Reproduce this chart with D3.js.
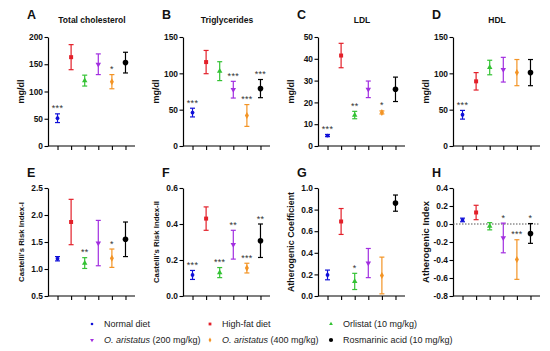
<!DOCTYPE html>
<html><head><meta charset="utf-8">
<script src="https://cdn.jsdelivr.net/npm/d3@7"></script>
<style>
body{margin:0;background:#fff;}
svg{display:block;font-family:"Liberation Sans",Arial,sans-serif;}
</style></head>
<body><svg id="c" width="550" height="351"></svg>
<script>
const groups = ["Normal diet","High-fat diet","Orlistat (10 mg/kg)","O. aristatus (200 mg/kg)","O. aristatus (400 mg/kg)","Rosmarinic acid (10 mg/kg)"];
const colors = ["#1010d8","#e3202a","#33c233","#a22ee0","#f39425","#000000"];
const shapes = ["circle","square","triangle","triangleDown","diamond","bigCircle"];

const tcMean = [51,163,120,150,118,153];
const tcErr  = [8,23,10,19,13,19];
const tcSig  = ["***","","","","*",""];

const tgMean = [46,115.5,103,77.5,42,79];
const tgErr  = [6,16,13,11.5,15,12.5];
const tgSig  = ["***","","","***","***","***"];

const ldlMean = [4.8,41.5,14.2,26,15.4,26];
const ldlErr  = [0.5,5.6,1.7,3.8,0.7,5.6];
const ldlSig  = ["***","","**","","*",""];

const hdlMean = [43,89,108,105,101,101];
const hdlErr  = [6,12,10,17,18,18];
const hdlSig  = ["***","","","","",""];

const cr1Mean = [1.19,1.87,1.11,1.48,1.2,1.55];
const cr1Err  = [0.04,0.42,0.1,0.42,0.17,0.32];
const cr1Sig  = ["","","**","","*",""];

const cr2Mean = [0.117,0.43,0.13,0.285,0.155,0.307];
const cr2Err  = [0.025,0.065,0.028,0.08,0.027,0.093];
const cr2Sig  = ["***","","***","**","***","**"];

const acMean = [0.195,0.69,0.135,0.305,0.19,0.86];
const acErr  = [0.045,0.12,0.075,0.135,0.17,0.075];
const acSig  = ["","","*","","",""];

const aiMean = [0.045,0.128,-0.025,-0.155,-0.395,-0.105];
const aiErr  = [0.02,0.08,0.04,0.165,0.22,0.11];
const aiSig  = ["","","","*","***","*"];

const panelLetters = ["A","B","C","D","E","F","G","H"];
const panelTitles = ["Total cholesterol","Triglycerides","LDL","HDL","","","",""];
const yTitles = ["mg/dl","mg/dl","mg/dl","mg/dl","Castelli's Risk Index-I","Castelli's Risk Index-II","Atherogenic Coefficient","Atherogenic Index"];
const yDomains = [[0,200],[0,150],[0,50],[0,150],[0.5,2.5],[0,0.6],[0,1.0],[-0.8,0.4]];
const yTicks = [[0,50,100,150,200],[0,50,100,150],[0,10,20,30,40,50],[0,50,100,150],[0.5,1.0,1.5,2.0,2.5],[0.0,0.2,0.4,0.6],[0.0,0.2,0.4,0.6,0.8,1.0],[-0.8,-0.6,-0.4,-0.2,0.0,0.2,0.4]];
const yDecimals = [0,0,0,0,1,1,1,1];

const panels = [
  [tcMean,tcErr,tcSig],[tgMean,tgErr,tgSig],[ldlMean,ldlErr,ldlSig],[hdlMean,hdlErr,hdlSig],
  [cr1Mean,cr1Err,cr1Sig],[cr2Mean,cr2Err,cr2Sig],[acMean,acErr,acSig],[aiMean,aiErr,aiSig]
];
const yTitleSize = [9,9,9,9,7.8,7.8,8.9,9.4];

const svg = d3.select("#c");

function drawMarker(g, shape, color, cx, cy, s) {
  if (shape === "circle") {
    g.append("circle").attr("cx",cx).attr("cy",cy).attr("r",1.9*s).attr("fill",color);
  } else if (shape === "bigCircle") {
    g.append("circle").attr("cx",cx).attr("cy",cy).attr("r",2.8*s).attr("fill",color);
  } else {
    const sym = shape==="square"?d3.symbolSquare:shape==="diamond"?d3.symbolDiamond:d3.symbolTriangle;
    const size = shape==="square"?16:shape==="diamond"?14:13;
    g.append("path").attr("d", d3.symbol().type(sym).size(size*s*s)()).attr("fill",color)
      .attr("transform", `translate(${cx},${cy})` + (shape==="triangleDown"?" rotate(180)":""));
  }
}

const fmtMinus = d => d3.format(".1f")(d).replace("\u2212","-");

panels.forEach((p, i) => {
  const [mean, err, sig] = p;
  const col = i % 4, row = Math.floor(i / 4);
  const ox = col * 135;
  const y0 = row === 0 ? 37 : 188, y1 = row === 0 ? 146 : 296;
  const g = svg.append("g");
  const x = d3.scalePoint().domain(groups).range([ox + 48, ox + 135]).padding(0.7);
  const y = d3.scaleLinear().domain(yDomains[i]).range([y1, y0]);

  const fmt = yDecimals[i] ? fmtMinus : d3.format("d");
  const ya = g.append("g").attr("transform", `translate(${ox + 48},0)`)
    .call(d3.axisLeft(y).tickValues(yTicks[i]).tickFormat(fmt).tickSize(3.5).tickSizeOuter(0).tickPadding(1.5));
  const xa = g.append("g").attr("transform", `translate(0,${y1})`)
    .call(d3.axisBottom(x).tickSize(4).tickSizeOuter(0).tickFormat(""));
  [ya, xa].forEach(a => {
    a.select(".domain").attr("stroke","#000").attr("stroke-width",1.2);
    a.selectAll(".tick line").attr("stroke","#000").attr("stroke-width",1.1);
    a.selectAll("text").attr("font-size","8.4px").attr("font-weight","bold").attr("fill","#111").attr("font-family","'Liberation Sans',Arial,sans-serif");
  });
  xa.select(".domain").attr("d", `M${ox+48},0H${ox+135}`);

  if (i === 7) {
    g.append("line").attr("x1", ox + 48).attr("x2", ox + 135).attr("y1", y(0)).attr("y2", y(0))
      .attr("stroke","#555").attr("stroke-width",1).attr("stroke-dasharray","1.5,1.5");
  }

  g.append("text").attr("x", ox + 27).attr("y", row === 0 ? 19 : 177).attr("font-size","12.5px").attr("font-weight","bold").attr("fill","#111").text(panelLetters[i]);
  if (panelTitles[i]) {
    g.append("text").attr("x", ox + 92).attr("y", 23).attr("text-anchor","middle").attr("font-size","8.5px").attr("font-weight","bold").attr("fill","#111").text(panelTitles[i]);
  }
  g.append("text").attr("transform", `translate(${ox + 24},${(y0 + y1) / 2}) rotate(-90)`)
    .attr("text-anchor","middle").attr("font-size", yTitleSize[i] + "px").attr("font-weight","bold").attr("fill","#111").text(yTitles[i]);

  groups.forEach((gr, j) => {
    const cx = x(gr), c = colors[j];
    const top = y(mean[j] + err[j]), bot = y(mean[j] - err[j]);
    g.append("line").attr("x1",cx).attr("x2",cx).attr("y1",top).attr("y2",bot).attr("stroke",c).attr("stroke-width",1.2);
    [top, bot].forEach(yy => g.append("line").attr("x1",cx-2.5).attr("x2",cx+2.5).attr("y1",yy).attr("y2",yy).attr("stroke",c).attr("stroke-width",1.2));
    drawMarker(g, shapes[j], c, cx, y(mean[j]), 1);
    if (sig[j]) {
      g.append("text").attr("x",cx).attr("y", top - 2.5).attr("text-anchor","middle").attr("font-size","9px").attr("fill","#333").attr("letter-spacing","0.3px").text(sig[j]);
    }
  });
});

// legend
const legX = [92, 210, 331], legY = [324, 340];
groups.forEach((gr, j) => {
  const lx = legX[j % 3], ly = legY[Math.floor(j / 3)];
  const lg = svg.append("g");
  drawMarker(lg, shapes[j], colors[j], lx, ly, j === 5 ? 0.75 : 0.7);
  const t = lg.append("text").attr("x", lx + 12).attr("y", ly + 3).attr("font-size","9px").attr("fill","#222");
  if (gr.startsWith("O. aristatus")) {
    t.append("tspan").attr("font-style","italic").text("O. aristatus");
    t.append("tspan").text(gr.slice("O. aristatus".length));
  } else t.text(gr);
});
</script></body></html>
